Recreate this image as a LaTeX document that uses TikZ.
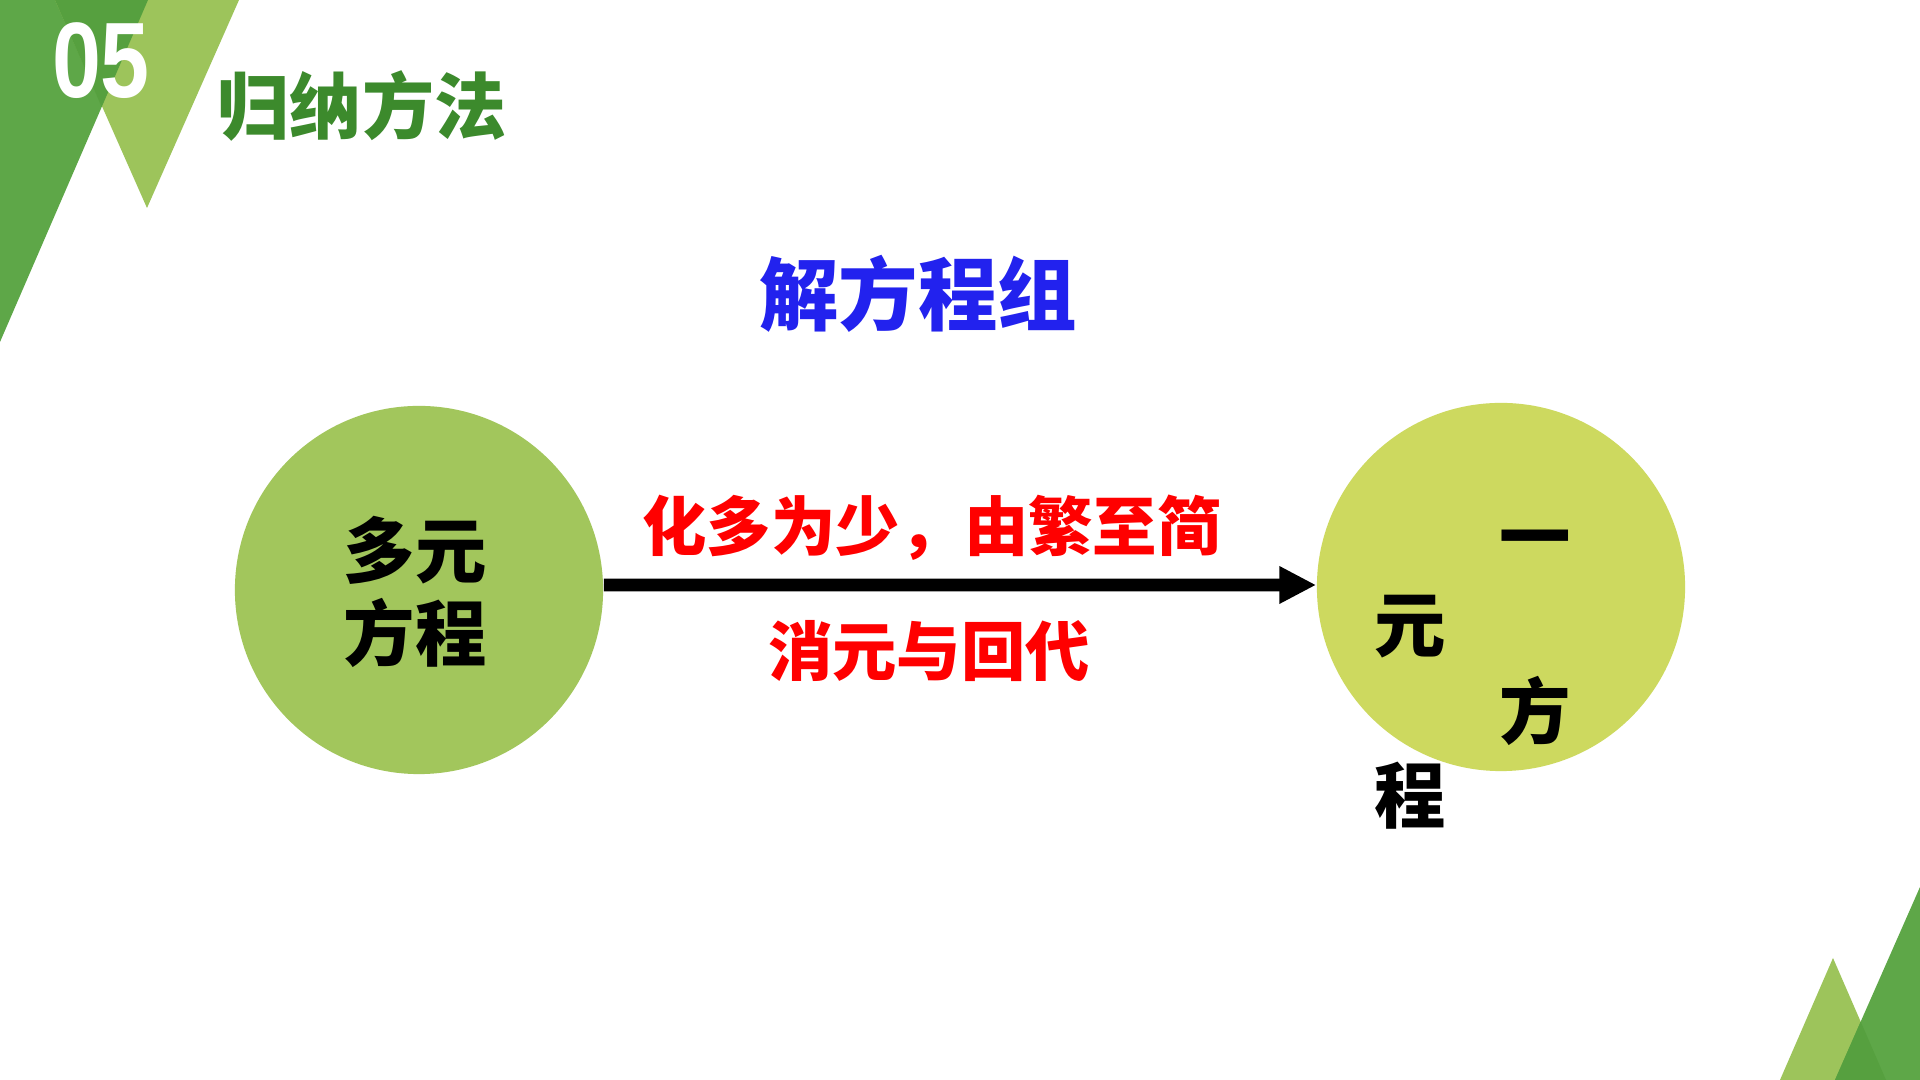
\documentclass[tikz,border=0pt]{standalone}
\usepackage{fontspec}
\setmainfont{Liberation Sans}
\newfontfamily\cjk{Noto Sans CJK SC}
\usetikzlibrary{arrows.meta}
\definecolor{darkg}{HTML}{5EA748}
\definecolor{lightg}{HTML}{9DC45B}
\definecolor{overg}{HTML}{56A03F}
\definecolor{titleg}{HTML}{3C8A2C}
\definecolor{circA}{HTML}{A2C65C}
\definecolor{circB}{HTML}{CDD95F}
\definecolor{blueT}{HTML}{2222EE}
\definecolor{redT}{HTML}{FF0000}
\tikzset{
  cjktext/.style={inner sep=0pt, font=\cjk\bfseries\fontsize{#1}{#1}\selectfont},
  bigcirc/.style={circle, minimum size=3.68cm, inner sep=0pt, fill=#1},
  blacktxt/.style={cjktext=20.3, text=black},
  redtxt/.style={cjktext=18.3, text=redT}
}
\begin{document}
\begin{tikzpicture}[x=0.01cm,y=-0.01cm]
\useasboundingbox (0,0) rectangle (1920,1080);
\fill[white] (0,0) rectangle (1920,1080);
% top-left decoration
\fill[darkg] (0,0) -- (148,0) -- (0,342) -- cycle;
\fill[lightg] (55,0) -- (239,0) -- (147,208) -- cycle;
\fill[overg] (55,0) -- (148,0) -- (101.7,107) -- cycle;
% bottom-right decoration
\fill[lightg] (1780,1080) -- (1833,958) -- (1886,1080) -- cycle;
\fill[darkg] (1835,1080) -- (1920,887) -- (1920,1080) -- cycle;
\fill[overg] (1835,1080) -- (1860.7,1021.7) -- (1886,1080) -- cycle;
% header
\node[inner sep=0pt, text=white, font=\bfseries\fontsize{30.5}{30.5}\selectfont] (num) at (101,61) {\scalebox{0.82}[1]{05}};
\node[cjktext=20.5, text=titleg] (title) at (362,106) {归纳方法};
\node[cjktext=22.6, text=blueT] (sub) at (918,294) {解方程组};
% circles
\node[bigcirc=circA] (lc) at (419,590) {};
\node[bigcirc=circB] (rc) at (1501,587) {};
\node[blacktxt, align=center, font=\cjk\bfseries\fontsize{20.3}{23.6}\selectfont] (ltxt) at (415,592) {多元\\方程};
% arrow
\draw[line width=3.6pt, -{Triangle[length=10.5pt, width=10pt]}] ([yshift=0.05cm]lc.east) -- ([yshift=0.02cm]rc.west);
\node[redtxt] (r1) at (932,528) {化多为少，由繁至简};
\node[redtxt] (r2) at (929,651) {消元与回代};
% right circle characters
\node[blacktxt] (c1) at (1535,547) {一};
\node[blacktxt] (c2) at (1410,627) {元};
\node[blacktxt] (c3) at (1535,711) {方};
\node[blacktxt] (c4) at (1410,796) {程};
\end{tikzpicture}
\end{document}
